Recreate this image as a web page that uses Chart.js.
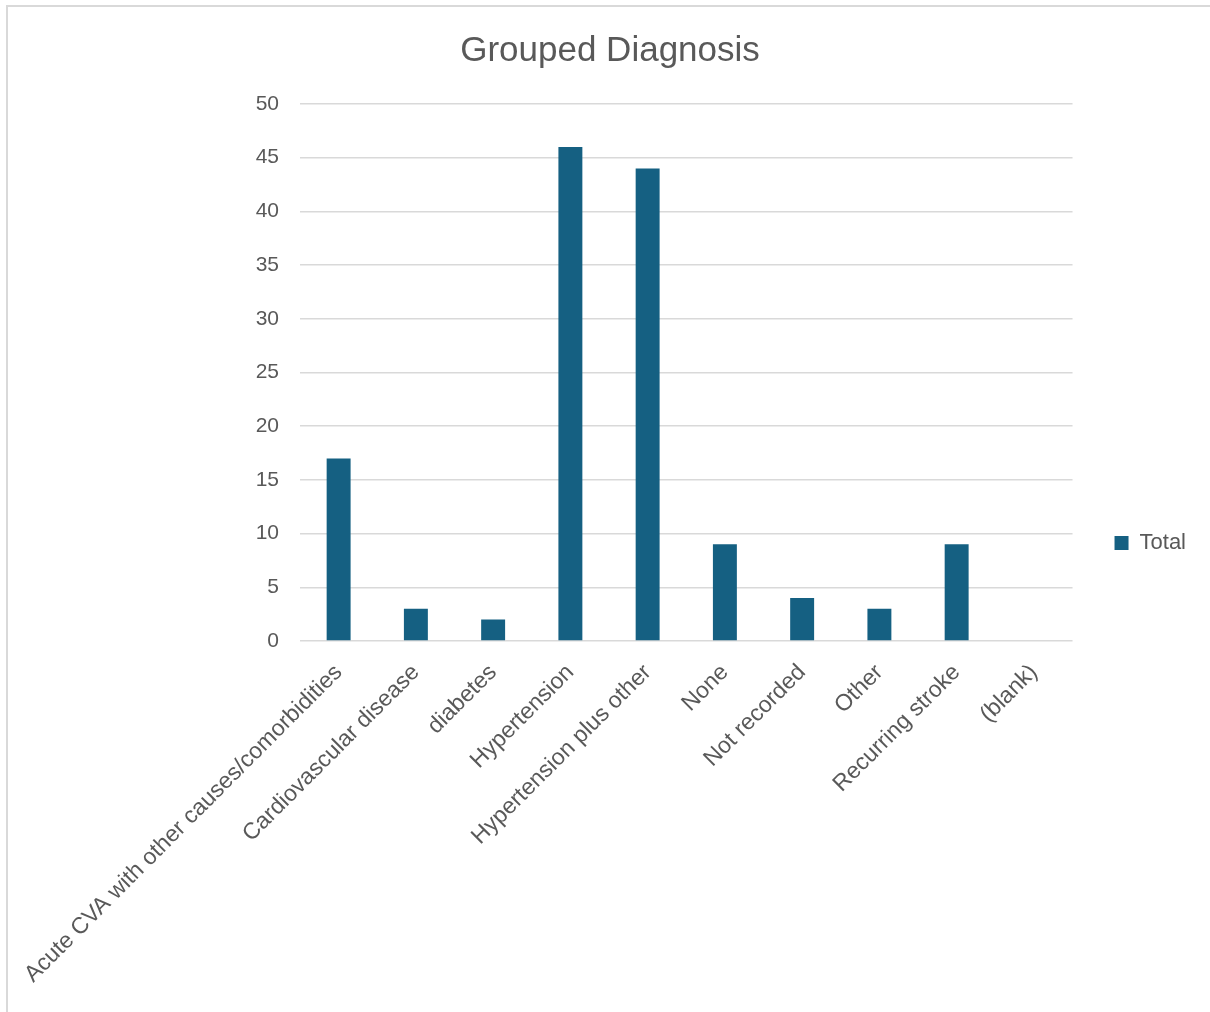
<!DOCTYPE html>
<html>
<head>
<meta charset="utf-8">
<script src="https://cdn.jsdelivr.net/npm/chart.js@4/dist/chart.umd.min.js"></script>
<style>
  html, body { margin: 0; padding: 0; background: #fff; overflow: hidden; }
  #frame {
    position: absolute; left: 6px; top: 5px; width: 1300px; height: 1200px;
    border-left: 2px solid #d9d9d9; border-top: 2px solid #d9d9d9;
  }
  #wrap { position: absolute; left: 0; top: 0; width: 1210px; height: 1086px; }
</style>
</head>
<body>
<div id="frame"></div>
<div id="wrap"><canvas id="chart"></canvas></div>
<script>
var categories = [
  "Acute CVA with other causes/comorbidities",
  "Cardiovascular disease",
  "diabetes",
  "Hypertension",
  "Hypertension plus other",
  "None",
  "Not recorded",
  "Other",
  "Recurring stroke",
  "(blank)"
];
var totals = [17, 3, 2, 46, 44, 9, 4, 3, 9, null];
var yTicks = [0, 5, 10, 15, 20, 25, 30, 35, 40, 45, 50];

var grey = "#595959";
var font = "'Liberation Sans', Arial, sans-serif";

new Chart('chart', {
  type: 'bar',
  data: {
    labels: categories,
    datasets: [{
      label: "Total",
      data: totals,
      backgroundColor: "#156082",
      borderWidth: 0,
      categoryPercentage: 1,
      barPercentage: 0.31
    }]
  },
  options: {
    responsive: true,
    maintainAspectRatio: false,
    animation: false,
    layout: {
      padding: { left: 24, right: 14, top: 0, bottom: 0 }
    },
    plugins: {
      title: {
        display: true,
        text: "Grouped Diagnosis",
        color: grey,
        font: { family: font, size: 35, weight: 'normal' },
        padding: { top: 30, bottom: 32 }
      },
      legend: {
        position: 'right',
        labels: {
          color: grey,
          font: { family: font, size: 22 },
          boxWidth: 14,
          boxHeight: 14,
          padding: 42
        }
      },
      tooltip: { enabled: false }
    },
    scales: {
      x: {
        grid: { display: false },
        border: { display: false },
        afterFit: function (axis) { axis.height = 445; },
        ticks: {
          color: grey,
          font: { family: font, size: 23 },
          autoSkip: false,
          minRotation: 45,
          maxRotation: 45,
          padding: 10
        }
      },
      y: {
        min: 0,
        max: 50,
        afterBuildTicks: function (axis) {
          axis.ticks = yTicks.map(function (v) { return { value: v }; });
        },
        afterFit: function (axis) { axis.width = 276; },
        grid: { color: "#d9d9d9", lineWidth: 1.5, drawTicks: false },
        border: { display: false },
        ticks: {
          color: grey,
          font: { family: font, size: 21 },
          padding: 21
        }
      }
    }
  }
});
</script>
</body>
</html>
